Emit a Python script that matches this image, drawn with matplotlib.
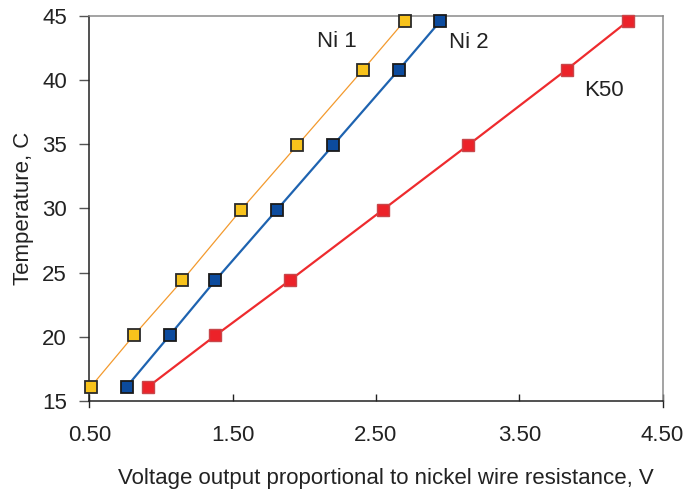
import matplotlib
matplotlib.use("Agg")
import matplotlib.pyplot as plt

plt.rcParams["font.family"] = ["Liberation Sans", "DejaVu Sans"]

# Temperature readings (C) shared by the three sensors
TEMPS = [16.1, 20.1, 24.4, 29.9, 34.9, 40.8, 44.6]

# Voltage output for each sensor (V)
NI1_V = [0.51, 0.81, 1.15, 1.56, 1.95, 2.41, 2.70]
NI2_V = [0.76, 1.06, 1.38, 1.81, 2.20, 2.66, 2.95]
K50_V = [0.91, 1.38, 1.90, 2.55, 3.14, 3.83, 4.26]

SERIES_NAMES = ["Ni 1", "Ni 2", "K50"]
# label anchor positions in data units
LABEL_POS = [(2.23, 43.0), (3.15, 42.9), (4.09, 39.2)]

X_TICKS = [0.5, 1.5, 2.5, 3.5, 4.5]
Y_TICKS = [15, 20, 25, 30, 35, 40, 45]

FS = 16

fig = plt.figure(figsize=(6.89, 4.92), dpi=100)
ax = fig.add_axes([0.1296, 0.185, 0.9617 - 0.1296, 0.968 - 0.185])

ax.plot(NI1_V, TEMPS, color="#F39A2E", lw=0.9, marker="s", ms=8.5,
        mfc="#F8C31C", mec="#2a2a2a", mew=1.3, zorder=3, clip_on=False)
ax.plot(NI2_V, TEMPS, color="#1E63B0", lw=1.6, marker="s", ms=8.5,
        mfc="#0C4B9E", mec="#1a1a1a", mew=1.3, zorder=3, clip_on=False)
ax.plot(K50_V, TEMPS, color="#EE2B2E", lw=1.6, marker="s", ms=8.5,
        mfc="#EC2229", mec="#C8464A", mew=1.0, zorder=3, clip_on=False)

for name, (lx, ly) in zip(SERIES_NAMES, LABEL_POS):
    ax.text(lx, ly, name, ha="center", va="center", fontsize=FS, color="#222222")

ax.set_xlim(0.5, 4.5)
ax.set_ylim(15, 45)
ax.set_xticks(X_TICKS)
ax.set_xticklabels([f"{v:.2f}" for v in X_TICKS])
ax.set_yticks(Y_TICKS)

ax.tick_params(axis="x", direction="in", length=5, width=1.0, pad=17,
               labelsize=FS, colors="#222222")
ax.tick_params(axis="y", direction="out", length=7, width=1.0, pad=9,
               labelsize=FS, colors="#222222", color="#555555")

for side in ("left", "bottom"):
    ax.spines[side].set_color("#222222")
    ax.spines[side].set_linewidth(1.1)
for side in ("top", "right"):
    ax.spines[side].set_color("#8a8a8a")
    ax.spines[side].set_linewidth(1.1)

# short stubs below the x axis at the two ends
trans = ax.get_xaxis_transform()
for xv in (0.5, 4.5):
    ax.plot([xv, xv], [0, -0.016], transform=trans, color="#222222",
            lw=1.0, clip_on=False)

ax.set_xlabel("Voltage output proportional to nickel wire resistance, V",
              fontsize=FS, color="#222222", labelpad=17)
ax.xaxis.set_label_coords(0.518, -0.175)
ax.set_ylabel("Temperature, C", fontsize=FS, color="#222222", labelpad=6)

fig.savefig("out.png", dpi=100)
